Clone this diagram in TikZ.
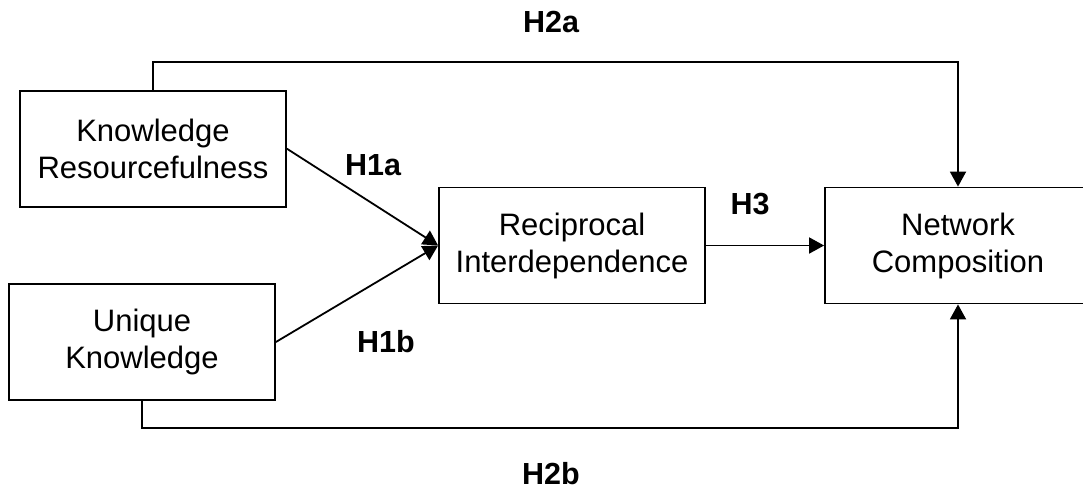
\documentclass[tikz,border=0pt]{standalone}
\usepackage{fontspec}
\setmainfont{Liberation Sans}
\usetikzlibrary{arrows.meta}
\begin{document}
\begin{tikzpicture}[x=1pt,y=-1pt,
 box/.style={draw, line width=1.8pt, minimum width=266pt, minimum height=116pt, inner sep=0pt, align=center, font=\fontsize{31}{37}\selectfont},
 lab/.style={font=\fontsize{30.5}{36}\selectfont\bfseries, inner sep=0pt},
 conn/.style={line width=1.8pt},
 arr/.style={conn, -{Triangle[length=15pt,width=16pt]}}]
\useasboundingbox (0,0) rectangle (1083,491);
\node[box] (kr) at (153,148.7) {Knowledge\\Resourcefulness};
\node[box] (uk) at (142,342) {Unique\\Knowledge};
\node[box] (ri) at (572,245.5) {Reciprocal\\Interdependence};
\node[box] (nc) at (958,245.5) {Network\\Composition};
\coordinate (a1) at (153,62);
\coordinate (a2) at (958,62);
\coordinate (b1) at (142,428);
\coordinate (b2) at (958,428);
\draw[arr] (kr.north) -- (a1) -- (a2) -- (nc.north);
\draw[arr] (uk.south) -- (b1) -- (b2) -- (nc.south);
\draw[arr] (kr.east) -- (ri.west);
\draw[arr] (uk.east) -- (ri.west);
\draw[arr] (ri.east) -- (nc.west);
\node[lab] (h2a) at (551,22) {H2a};
\node[lab] (h1a) at (373,165) {H1a};
\node[lab] (h1b) at (386,342) {H1b};
\node[lab] (h3) at (750,204) {H3};
\node[lab] (h2b) at (551,474) {H2b};
\end{tikzpicture}
\end{document}
